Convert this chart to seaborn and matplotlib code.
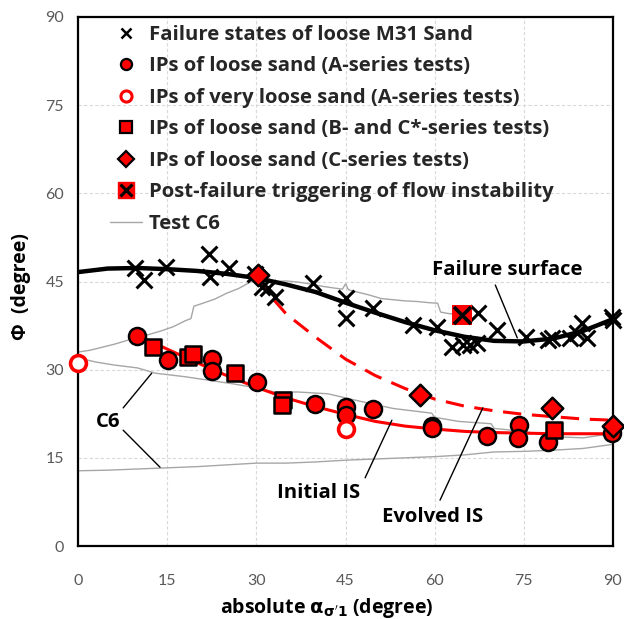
import matplotlib
matplotlib.use("Agg")
import matplotlib.pyplot as plt
import seaborn as sns
import numpy as np
import pandas as pd
from matplotlib.lines import Line2D

# ---------------- data ----------------
fail_x = [9.6, 11.1, 14.8, 22.0, 22.2, 25.4, 29.8, 31.0, 32.0, 33.1, 39.5, 45.0, 45.1, 49.6,
          56.4, 60.4, 62.9, 64.8, 65.9, 67.1, 67.3, 70.5, 75.4, 79.1, 79.7, 82.8, 84.0,
          84.8, 85.6, 89.8, 90.0]
fail_y = [47.3, 45.3, 47.5, 49.7, 45.8, 47.3, 46.3, 44.1, 43.9, 42.4, 44.7, 42.2, 38.8, 40.5,
          37.6, 37.3, 33.9, 34.2, 34.2, 34.5, 39.6, 36.7, 35.6, 35.0, 35.4, 35.4, 36.2,
          37.9, 35.4, 39.0, 38.4]

ipA_x = [9.9, 15.1, 22.5, 22.5, 30.1, 39.9, 45.1, 45.1, 49.6, 59.6, 59.6, 68.8, 74.2, 74.0, 79.1, 89.8]
ipA_y = [35.7, 31.6, 31.8, 29.8, 27.9, 24.2, 23.7, 22.3, 23.3, 20.4, 20.0, 18.7, 20.6, 18.3, 17.7, 19.2]

ipVL_x = [0.0, 45.0]
ipVL_y = [31.1, 19.9]

ipBC_x = [12.6, 18.5, 19.3, 26.4, 34.5, 34.3, 80.0]
ipBC_y = [33.9, 32.1, 32.7, 29.4, 24.8, 24.0, 19.7]

ipC_x = [30.3, 57.5, 79.7, 90.0]
ipC_y = [46.1, 25.7, 23.5, 20.4]

post_x = [64.6]
post_y = [39.3]

fs_x = [0, 5, 10, 15, 20, 25, 30, 35, 40, 45, 50, 55, 60, 65, 70, 75, 80, 85, 90]
fs_y = [46.6, 47.2, 47.3, 47.1, 46.8, 46.3, 45.6, 44.5, 43.2, 41.4, 39.7, 38.1, 36.7, 35.6,
        34.9, 34.8, 35.3, 36.6, 38.6]

iis_x = [9.9, 15, 20, 25, 30, 35, 40, 45, 50, 55, 60, 65, 70, 75, 80, 85, 90]
iis_y = [35.9, 33.5, 31.2, 29.0, 27.0, 25.2, 23.7, 22.4, 21.2, 20.4, 19.9, 19.5, 19.3, 19.2,
         19.1, 19.1, 19.1]

eis_x = [30.3, 32.5, 35, 40, 45, 50, 55, 60, 65, 70, 75, 80, 85, 90]
eis_y = [46.1, 42.4, 39.5, 35.5, 31.8, 29.0, 26.8, 25.0, 23.8, 23.0, 22.4, 22.0, 21.6, 21.4]

c6a_x = [0, 2, 4, 6, 8, 10, 12, 14, 16, 18, 19, 19.5, 21, 23, 25, 27, 29, 30, 31, 33, 35, 37,
         39, 41, 43, 44.5, 45, 45.5, 47, 49, 51, 53, 55, 57, 59, 60.5, 61, 62, 63.5]
c6a_y = [33.0, 33.3, 33.8, 34.3, 34.9, 35.5, 36.0, 36.6, 37.3, 38.3, 38.7, 40.8, 41.3, 42.0,
         43.0, 43.8, 44.9, 45.6, 45.3, 45.0, 45.1, 44.9, 44.6, 44.2, 43.9, 43.7, 44.6, 43.6,
         43.2, 42.7, 42.1, 41.9, 41.7, 41.6, 41.4, 41.3, 39.8, 39.6, 39.4]

c6b_x = [0, 3, 6, 10, 13, 18, 22, 26, 30, 33, 37, 42, 45, 48, 53, 59.5, 60, 64, 69.5, 70,
         75, 80, 85, 89, 90]
c6b_y = [32.0, 31.3, 30.8, 30.3, 29.4, 28.8, 28.2, 27.6, 26.9, 26.2, 26.2, 25.9, 25.2, 24.5,
         23.4, 22.6, 21.9, 21.2, 20.8, 20.0, 19.5, 18.6, 18.4, 19.0, 19.3]

c6c_x = [0, 5, 10, 15, 20, 25, 30, 35, 40, 45, 50, 55, 60, 65, 70, 75, 80, 85, 90]
c6c_y = [12.8, 12.9, 13.1, 13.3, 13.5, 13.8, 14.1, 14.1, 14.3, 14.6, 14.8, 15.0, 15.2, 15.5,
         16.0, 16.1, 16.3, 16.6, 17.3]

ticks = [0, 15, 30, 45, 60, 75, 90]

legend_labels = ["Failure states of loose M31 Sand",
                 "IPs of loose sand (A-series tests)",
                 "IPs of very loose sand (A-series tests)",
                 "IPs of loose sand (B- and C*-series tests)",
                 "IPs of loose sand (C-series tests)",
                 "Post-failure triggering of flow instability",
                 "Test C6"]

# ---------------- style ----------------
sns.set_theme(style="white")
plt.rcParams["font.family"] = ["Open Sans", "DejaVu Sans"]

RED = "#ff0000"
GRAY = "#a6a6a6"

fig = plt.figure(figsize=(6.24, 6.19), dpi=100)
ax = fig.add_axes([78 / 624, 1 - 546 / 619, (613 - 78) / 624, (546 - 17) / 619])

# Test C6 traces
for xs, ys in [(c6a_x, c6a_y), (c6b_x, c6b_y), (c6c_x, c6c_y)]:
    sns.lineplot(x=xs, y=ys, sort=False, estimator=None, color=GRAY, lw=1.0, ax=ax, zorder=2)

# fitted curves
sns.lineplot(x=fs_x, y=fs_y, sort=False, estimator=None, color="black", lw=3.2, ax=ax, zorder=3)
sns.lineplot(x=iis_x, y=iis_y, sort=False, estimator=None, color=RED, lw=2.2, ax=ax, zorder=3)
ax.plot(eis_x, eis_y, color=RED, lw=2.2, dashes=(6, 3.5), zorder=3)

# points
sns.scatterplot(x=fail_x, y=fail_y, marker="x", color="black", s=130, linewidth=2.2,
                ax=ax, zorder=5, clip_on=False)
sns.scatterplot(x=ipA_x, y=ipA_y, marker="o", color=RED, edgecolor="black", s=150,
                linewidth=1.8, ax=ax, zorder=6, clip_on=False)
sns.scatterplot(x=ipVL_x, y=ipVL_y, marker="o", facecolor="white", edgecolor=RED, s=130,
                linewidth=2.6, ax=ax, zorder=6, clip_on=False)
sns.scatterplot(x=ipBC_x, y=ipBC_y, marker="s", color=RED, edgecolor="black", s=140,
                linewidth=1.8, ax=ax, zorder=6, clip_on=False)
sns.scatterplot(x=ipC_x, y=ipC_y, marker="D", color=RED, edgecolor="black", s=120,
                linewidth=1.8, ax=ax, zorder=7, clip_on=False)
sns.scatterplot(x=post_x, y=post_y, marker="s", color=RED, edgecolor=RED, s=220,
                linewidth=0, ax=ax, zorder=7, clip_on=False)
sns.scatterplot(x=post_x, y=post_y, marker="x", color="black", s=150, linewidth=2.6,
                ax=ax, zorder=8, clip_on=False)

# axes
ax.set_xlim(0, 90)
ax.set_ylim(0, 90)
ax.set_xticks(ticks)
ax.set_yticks(ticks)
ax.grid(True, color="#d9d9d9", lw=0.8, ls=(0, (3, 2)))
for sp in ax.spines.values():
    sp.set_visible(True)
    sp.set_color("black")
    sp.set_linewidth(1.6)
ax.tick_params(axis="both", direction="in", length=5, width=1.2, colors="black",
               labelcolor="#595959", labelsize=11.5, pad=10)
ax.tick_params(axis="x", pad=20)
for lab in ax.get_xticklabels() + ax.get_yticklabels():
    lab.set_family(["Lato", "DejaVu Sans"])

ax.set_xlabel(r"absolute $\mathbf{\alpha_{\sigma'1}}$ (degree)", fontsize=14, fontweight="bold",
              color="black")
ax.set_ylabel("Φ  (degree)", fontsize=14, fontweight="bold", color="black")
ax.xaxis.set_label_coords(0.464, -0.094)
ax.yaxis.set_label_coords(-0.088, 0.49)

# legend
handles = [
    Line2D([], [], ls="none", marker="x", color="black", ms=7, mew=1.8),
    Line2D([], [], ls="none", marker="o", mfc=RED, mec="black", ms=8, mew=1.6),
    Line2D([], [], ls="none", marker="o", mfc="white", mec=RED, ms=8, mew=2.2),
    Line2D([], [], ls="none", marker="s", mfc=RED, mec="black", ms=8, mew=1.6),
    (Line2D([], [], ls="none", marker="D", mfc=RED, mec="black", ms=8, mew=1.6)),
    (Line2D([], [], ls="none", marker="s", mfc=RED, mec=RED, ms=11),
     Line2D([], [], ls="none", marker="x", color="black", ms=9, mew=2.2)),
    Line2D([], [], color=GRAY, lw=1.0),
]
leg = ax.legend(handles, legend_labels, loc="upper left", bbox_to_anchor=(0.025, 1.02),
                frameon=False, handlelength=1.6, handletextpad=0.35, labelspacing=0.57,
                prop={"weight": "bold", "size": 14.6})

# annotations
txt = dict(fontsize=14.6, fontweight="bold", color="black", ha="center", va="center")
ax.text(72.2, 47.0, "Failure surface", **txt)
ax.plot([70.2, 73.9], [44.4, 35.4], color="black", lw=1.0, zorder=4)
ax.text(5.0, 21.1, "C6", **txt)
ax.plot([7.6, 12.4], [23.5, 29.4], color="black", lw=1.0, zorder=4)
ax.plot([7.6, 13.8], [19.7, 13.4], color="black", lw=1.0, zorder=4)
ax.text(40.4, 9.0, "Initial IS", **txt)
ax.plot([48.3, 52.8], [11.6, 21.4], color="black", lw=1.0, zorder=4)
ax.text(59.7, 4.9, "Evolved IS", **txt)
ax.plot([60.9, 68.1], [7.8, 23.5], color="black", lw=1.0, zorder=4)

fig.savefig("out.png", dpi=100)
